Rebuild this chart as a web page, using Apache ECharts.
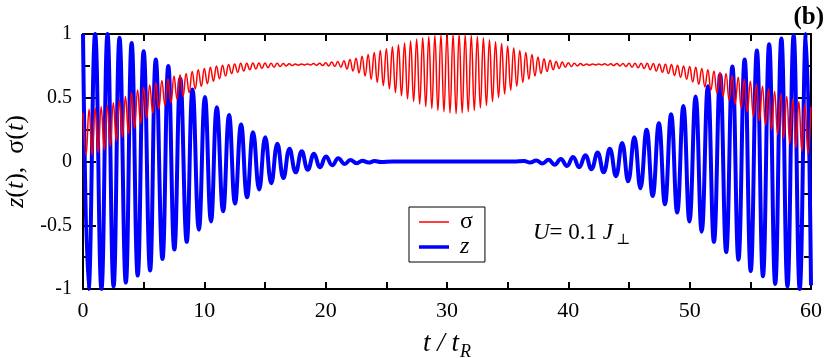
<!DOCTYPE html>
<html>
<head>
<meta charset="utf-8">
<script src="https://cdn.jsdelivr.net/npm/echarts@6/dist/echarts.min.js"></script>
<style>
  html, body { margin: 0; padding: 0; background: #fff; }
  #chart { width: 830px; height: 358px; }
</style>
</head>
<body>
<div id="chart"></div>
<script>
// x ticks / y ticks
const xTicks = [0, 10, 20, 30, 40, 50, 60]
const yTicks = [-1, -0.5, 0, 0.5, 1]

// z(t): extrema, [t, z]
const zPoints = [
  [0, 1.0], [0.46, -1.0], [1.0, 1.0], [1.52, -1.0], [2.02, 1.0], [2.52, -0.98],
  [3.01, 0.97], [3.53, -0.95], [4.01, 0.93], [4.51, -0.895], [5.0, 0.865], [5.53, -0.855],
  [6.0, 0.8], [6.55, -0.765], [7.03, 0.75], [7.53, -0.69], [8.02, 0.65], [8.55, -0.63],
  [9.03, 0.565], [9.55, -0.535], [10.05, 0.505], [10.55, -0.47], [11.03, 0.425], [11.55, -0.39],
  [12.04, 0.365], [12.53, -0.33], [13.03, 0.29], [13.52, -0.28], [14.02, 0.23], [14.52, -0.22],
  [15.02, 0.19], [15.52, -0.17], [16.02, 0.14], [16.52, -0.13], [17.02, 0.10], [17.53, -0.085],
  [18.03, 0.08], [18.53, -0.065], [19.04, 0.06], [19.54, -0.045], [20.03, 0.04], [20.55, -0.03],
  [21.04, 0.025], [21.57, -0.02], [22.03, 0.012], [22.56, -0.014], [23.02, 0.006], [23.55, -0.008],
  [24.03, 0.003], [24.55, -0.004], [25.5, 0], [30, 0], [35.5, 0],
  [36.35, 0.004], [36.85, -0.008], [37.36, 0.008], [37.86, -0.015], [38.37, 0.013], [38.87, -0.025],
  [39.38, 0.02], [39.88, -0.035], [40.39, 0.035], [40.89, -0.045], [41.4, 0.05], [41.9, -0.06],
  [42.41, 0.07], [42.91, -0.085], [43.42, 0.10], [43.92, -0.115], [44.43, 0.145], [44.93, -0.155],
  [45.44, 0.19], [45.94, -0.21], [46.45, 0.25], [46.95, -0.27], [47.46, 0.30], [47.96, -0.335],
  [48.47, 0.37], [48.97, -0.40], [49.48, 0.435], [49.98, -0.47], [50.49, 0.51], [50.99, -0.55],
  [51.5, 0.59], [52.0, -0.63], [52.51, 0.68], [53.01, -0.71], [53.52, 0.745], [54.02, -0.77],
  [54.53, 0.80], [55.03, -0.86], [55.54, 0.87], [56.04, -0.90], [56.55, 0.92], [57.05, -0.96],
  [57.56, 0.965], [58.06, -0.98], [58.57, 0.99], [59.07, -1.0], [59.58, 1.0], [60, -0.97]
]

// sigma(t): peaks and troughs, [t, sigma]
const sigmaPoints = [
  [0, 0.38], [0.25, 0.05], [0.5, 0.41], [0.75, 0.05], [1, 0.42], [1.25, 0.07], [1.5, 0.43], [1.75, 0.09],
  [2, 0.44], [2.25, 0.12], [2.5, 0.46], [2.75, 0.16], [3, 0.48], [3.25, 0.19], [3.5, 0.51], [3.75, 0.22],
  [4, 0.54], [4.25, 0.26], [4.5, 0.56], [4.75, 0.30], [5, 0.58], [5.25, 0.34], [5.5, 0.60], [5.75, 0.38],
  [6, 0.62], [6.25, 0.41], [6.5, 0.635], [6.75, 0.44], [7, 0.65], [7.25, 0.46], [7.5, 0.67], [7.75, 0.49],
  [8, 0.68], [8.25, 0.51], [8.5, 0.69], [8.75, 0.54], [9, 0.705], [9.25, 0.57], [9.5, 0.72], [9.75, 0.59],
  [10, 0.73], [10.25, 0.61], [10.5, 0.74], [10.75, 0.63], [11, 0.75], [11.25, 0.65], [11.5, 0.755], [11.75, 0.67],
  [12, 0.76], [12.25, 0.69], [12.5, 0.765], [12.75, 0.70], [13, 0.77], [13.25, 0.71], [13.5, 0.77], [13.75, 0.72],
  [14, 0.772], [14.25, 0.725], [14.5, 0.772], [14.75, 0.73], [15, 0.772], [15.25, 0.735], [15.5, 0.77], [15.75, 0.74],
  [16, 0.77], [16.25, 0.745], [16.5, 0.768], [16.75, 0.75], [17, 0.767], [17.25, 0.752], [17.5, 0.765], [17.75, 0.755],
  [18, 0.765], [18.25, 0.757], [18.5, 0.765], [18.75, 0.757], [19, 0.768], [19.25, 0.755], [19.5, 0.77], [19.75, 0.752],
  [20, 0.775], [20.25, 0.75], [20.5, 0.78], [20.75, 0.745], [21, 0.785], [21.25, 0.74], [21.5, 0.79], [21.75, 0.725],
  [22, 0.80], [22.25, 0.71], [22.5, 0.81], [22.75, 0.695], [23, 0.825], [23.25, 0.67], [23.5, 0.84], [23.75, 0.645],
  [24, 0.855], [24.25, 0.62], [24.5, 0.87], [24.75, 0.595], [25, 0.885], [25.25, 0.57], [25.5, 0.90], [25.75, 0.54],
  [26, 0.915], [26.25, 0.515], [26.5, 0.93], [26.75, 0.49], [27, 0.945], [27.25, 0.47], [27.5, 0.96], [27.75, 0.45],
  [28, 0.97], [28.25, 0.43], [28.5, 0.98], [28.75, 0.415], [29, 0.99], [29.25, 0.40], [29.5, 0.995], [29.75, 0.39],
  [30, 1.0], [30.25, 0.38], [30.5, 1.0], [30.75, 0.375], [31, 1.0], [31.25, 0.38], [31.5, 0.995], [31.75, 0.39],
  [32, 0.99], [32.25, 0.40], [32.5, 0.98], [32.75, 0.42], [33, 0.97], [33.25, 0.44], [33.5, 0.955], [33.75, 0.47],
  [34, 0.94], [34.25, 0.50], [34.5, 0.925], [34.75, 0.53], [35, 0.905], [35.25, 0.56], [35.5, 0.89], [35.75, 0.59],
  [36, 0.87], [36.25, 0.62], [36.5, 0.855], [36.75, 0.645], [37, 0.84], [37.25, 0.67], [37.5, 0.82], [37.75, 0.69],
  [38, 0.805], [38.25, 0.705], [38.5, 0.795], [38.75, 0.72], [39, 0.785], [39.25, 0.73], [39.5, 0.78], [39.75, 0.74],
  [40, 0.775], [40.25, 0.745], [40.5, 0.77], [40.75, 0.75], [41, 0.768], [41.25, 0.752], [41.5, 0.765], [41.75, 0.755],
  [42, 0.765], [42.25, 0.757], [42.5, 0.765], [42.75, 0.757], [43, 0.766], [43.25, 0.755], [43.5, 0.767], [43.75, 0.752],
  [44, 0.768], [44.25, 0.75], [44.5, 0.769], [44.75, 0.745], [45, 0.77], [45.25, 0.74], [45.5, 0.77], [45.75, 0.735],
  [46, 0.77], [46.25, 0.73], [46.5, 0.77], [46.75, 0.72], [47, 0.768], [47.25, 0.71], [47.5, 0.765], [47.75, 0.70],
  [48, 0.762], [48.25, 0.69], [48.5, 0.76], [48.75, 0.675], [49, 0.755], [49.25, 0.66], [49.5, 0.75], [49.75, 0.645],
  [50, 0.745], [50.25, 0.625], [50.5, 0.74], [50.75, 0.605], [51, 0.73], [51.25, 0.585], [51.5, 0.72], [51.75, 0.56],
  [52, 0.71], [52.25, 0.535], [52.5, 0.70], [52.75, 0.51], [53, 0.69], [53.25, 0.48], [53.5, 0.675], [53.75, 0.45],
  [54, 0.66], [54.25, 0.42], [54.5, 0.645], [54.75, 0.39], [55, 0.63], [55.25, 0.355], [55.5, 0.61], [55.75, 0.32],
  [56, 0.59], [56.25, 0.285], [56.5, 0.57], [56.75, 0.25], [57, 0.55], [57.25, 0.21], [57.5, 0.53], [57.75, 0.18],
  [58, 0.51], [58.25, 0.14], [58.5, 0.49], [58.75, 0.11], [59, 0.47], [59.25, 0.08], [59.5, 0.45], [59.75, 0.06],
  [60, 0.43]
]

const serif = "'Liberation Serif', 'DejaVu Serif', serif"

const chart = echarts.init(document.getElementById('chart'), null, { renderer: 'canvas' })

// shared look for the frame axes
function frameAxis(extra) {
  return Object.assign({
    type: 'value',
    axisLine: { show: true, onZero: false, lineStyle: { color: '#000', width: 2 } },
    axisTick: { show: true, inside: true, length: 7, lineStyle: { color: '#000', width: 2 } },
    minorTick: { show: true, splitNumber: 2, length: 7, lineStyle: { color: '#000', width: 2 } },
    splitLine: { show: false },
    axisLabel: {
      color: '#000',
      fontFamily: serif,
      fontSize: 22,
      margin: 11,
    },
  }, extra)
}

const option = {
  animation: false,
  title: {
    text: '(b)',
    right: 1,
    top: 0,
    textStyle: { fontFamily: serif, fontWeight: 'bold', fontSize: 25, color: '#000' },
  },
  grid: {
    left: 83,
    right: 19,
    top: 34,
    bottom: 69,
    outerBoundsMode: 'none',
    containLabel: false,
  },
  legend: {
    data: [
      { name: 'σ', icon: 'path://M0,0h30v1.5h-30z' },
      { name: 'z', icon: 'path://M0,0h30v3.5h-30z', textStyle: { fontStyle: 'italic' } },
    ],
    orient: 'vertical',
    left: 409,
    top: 207,
    itemWidth: 30,
    itemHeight: 14,
    itemGap: 1,
    padding: [3, 12, 3, 10],
    borderColor: '#000',
    borderWidth: 1,
    textStyle: { color: '#000', fontFamily: serif, fontSize: 24, lineHeight: 22, padding: [0, 0, 0, 6] },
  },
  xAxis: [
    frameAxis({
      min: xTicks[0],
      max: xTicks[xTicks.length - 1],
      interval: 10,
      position: 'bottom',
      name: '{i|t / t}{s|R}',
      nameLocation: 'middle',
      nameGap: 38,
      nameTextStyle: {
        rich: {
          i: { fontFamily: serif, fontStyle: 'italic', fontSize: 27, color: '#000' },
          s: { fontFamily: serif, fontStyle: 'italic', fontSize: 18, color: '#000', padding: [16, 0, 0, 1] },
        },
      },
    }),
    frameAxis({
      min: xTicks[0],
      max: xTicks[xTicks.length - 1],
      interval: 10,
      position: 'top',
      axisLabel: { show: false },
    }),
  ],
  yAxis: [
    frameAxis({
      min: yTicks[0],
      max: yTicks[yTicks.length - 1],
      interval: 0.5,
      position: 'left',
      axisTick: { show: true, inside: true, length: 13, lineStyle: { color: '#000', width: 2 } },
      axisLabel: { color: '#000', fontFamily: serif, fontSize: 20, margin: 11 },
      name: '{i|z}{n|(}{i|t}{n|),  σ(}{i|t}{n|)}',
      nameLocation: 'middle',
      nameRotate: 90,
      nameGap: 43,
      nameTextStyle: {
        rich: {
          i: { fontFamily: serif, fontStyle: 'italic', fontSize: 26, color: '#000' },
          n: { fontFamily: serif, fontSize: 26, color: '#000' },
        },
      },
    }),
    frameAxis({
      min: yTicks[0],
      max: yTicks[yTicks.length - 1],
      interval: 0.5,
      position: 'right',
      axisTick: { show: true, inside: true, length: 13, lineStyle: { color: '#000', width: 2 } },
      axisLabel: { show: false },
    }),
  ],
  graphic: [
    {
      type: 'text',
      left: 533,
      top: 221,
      style: {
        text: '{i|U}{n|= 0.1 }{i|J}{s|⊥}',
        rich: {
          i: { fontFamily: serif, fontStyle: 'italic', fontSize: 23, fill: '#000' },
          n: { fontFamily: serif, fontSize: 23, fill: '#000' },
          s: { fontFamily: serif, fontSize: 15, fill: '#000', padding: [16, 0, 0, 3] },
        },
      },
    },
  ],
  series: [
    {
      name: 'z',
      type: 'line',
      data: zPoints,
      smooth: 0.45,
      symbol: 'none',
      clip: false,
      lineStyle: { color: '#0000ff', width: 4 },
      itemStyle: { color: '#0000ff' },
    },
    {
      name: 'σ',
      type: 'line',
      data: sigmaPoints,
      smooth: 0.45,
      symbol: 'none',
      clip: false,
      lineStyle: { color: '#ff0000', width: 1.5 },
      itemStyle: { color: '#ff0000' },
    },
  ],
}

chart.setOption(option)
</script>
</body>
</html>
